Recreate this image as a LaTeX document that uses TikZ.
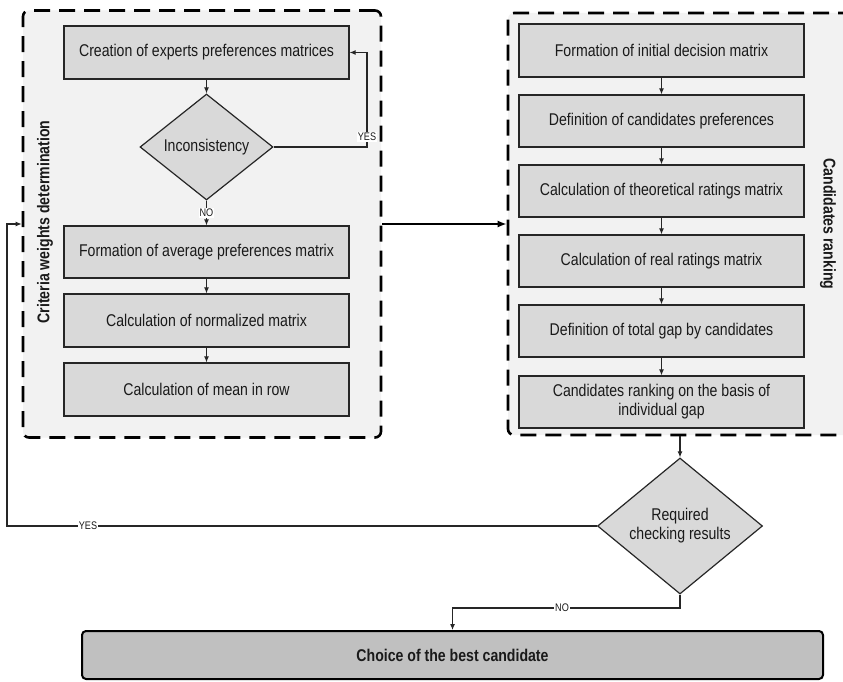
\documentclass[tikz,border=0pt]{standalone}
\usepackage{fontspec}
\setmainfont{Liberation Sans}[FakeStretch=0.83]
\usetikzlibrary{shapes.geometric,arrows.meta}
\definecolor{boxgray}{HTML}{D9D9D9}
\definecolor{pane}{HTML}{F2F2F2}
\definecolor{choicegray}{HTML}{C0C0C0}
\definecolor{ink}{HTML}{1A1A1A}
\begin{document}
\begin{tikzpicture}[x=1pt,y=-1pt,
  every node/.style={font=\fontsize{17}{19}\selectfont, text=ink},
  group/.style={draw=black, line width=2.6pt, dash pattern=on 16pt off 9pt, rounded corners=6pt, fill=pane, inner sep=0pt},
  stepbox/.style={draw=black!85, line width=1.2pt, fill=boxgray, minimum width=285pt, minimum height=52pt, inner sep=2pt, align=center},
  decision/.style={draw=black!85, diamond, line width=1.2pt, fill=boxgray, inner sep=0pt, align=center},
  flow/.style={draw=black!85, line width=1.1pt, -{Latex[length=6pt,width=5pt]}},
  bigflow/.style={draw=black, line width=2.4pt, -{Latex[length=9pt,width=7pt]}},
  tag/.style={font=\fontsize{11}{12}\selectfont, fill=white, inner sep=1pt},
  grouptitle/.style={font=\fontsize{17}{19}\selectfont\bfseries},
  ]
\clip (0,0) rectangle (843,682);
\fill[white] (0,0) rectangle (843,682);

% containers
\node[group, minimum width=358pt, minimum height=427pt] (gl) at (202,224) {};
\node[group, minimum width=352pt, minimum height=422pt] (gr) at (684,224) {};

\node[grouptitle, rotate=90] (tl) at (45,222) {Criteria weights determination};
\node[grouptitle, rotate=-90] (tr) at (828,224) {Candidates ranking};

% left column
\node[stepbox, minimum height=53pt] (l1) at (206.5,52.5) {Creation of experts preferences matrices};
\node[decision, minimum width=133pt, minimum height=106pt] (d1) at (206.5,147) {Inconsistency};
\node[stepbox] (l2) at (206.5,252) {Formation of average preferences matrix};
\node[stepbox, minimum height=53pt] (l3) at (206.5,320.5) {Calculation of normalized matrix};
\node[stepbox, minimum height=53pt] (l4) at (206.5,389.5) {Calculation of mean in row};

% right column
\node[stepbox, minimum height=53pt] (r1) at (661.5,50.5) {Formation of initial decision matrix};
\node[stepbox] (r2) at (661.5,121) {Definition of candidates preferences};
\node[stepbox] (r3) at (661.5,191) {Calculation of theoretical ratings matrix};
\node[stepbox] (r4) at (661.5,261) {Calculation of real ratings matrix};
\node[stepbox] (r5) at (661.5,331) {Definition of total gap by candidates};
\node[stepbox] (r6) at (661.5,402) {Candidates ranking on the basis of\\individual gap};

% bottom
\node[decision, minimum width=165pt, minimum height=133pt] (d2) at (680,526) {Required\\checking results};
\node[draw=black, line width=2pt, rounded corners=4pt, fill=choicegray, minimum width=741pt, minimum height=48pt, font=\fontsize{17}{19}\selectfont\bfseries] (ch) at (452.5,655) {Choice of the best candidate};

% left flow
\draw[flow] (l1) -- (d1);
\draw[flow] (d1) -- node[tag] (no1) {NO} (l2);
\draw[flow] (l2) -- (l3);
\draw[flow] (l3) -- (l4);
\coordinate (yesturn) at (367,147);
\draw[flow] (d1.east) -- (yesturn) |- (l1.east);
\node[tag] (yes1) at (367,137) {YES};

% right flow
\draw[flow] (r1) -- (r2);
\draw[flow] (r2) -- (r3);
\draw[flow] (r3) -- (r4);
\draw[flow] (r4) -- (r5);
\draw[flow] (r5) -- (r6);

% between groups
\draw[bigflow] (gl.east) -- (gr.west);

% bottom flows
\draw[flow] (gr.south -| d2.north) -- (d2.north);
\coordinate (yesleft) at (7,526);
\draw[flow] (d2.west) -- (yesleft) |- (gl.west);
\node[tag] (yes2) at (88,526) {YES};
\coordinate (noturn) at (680,608);
\draw[flow] (d2.south) -- (noturn) -| (ch.north);
\node[tag] (no2) at (562,608) {NO};
\end{tikzpicture}
\end{document}
